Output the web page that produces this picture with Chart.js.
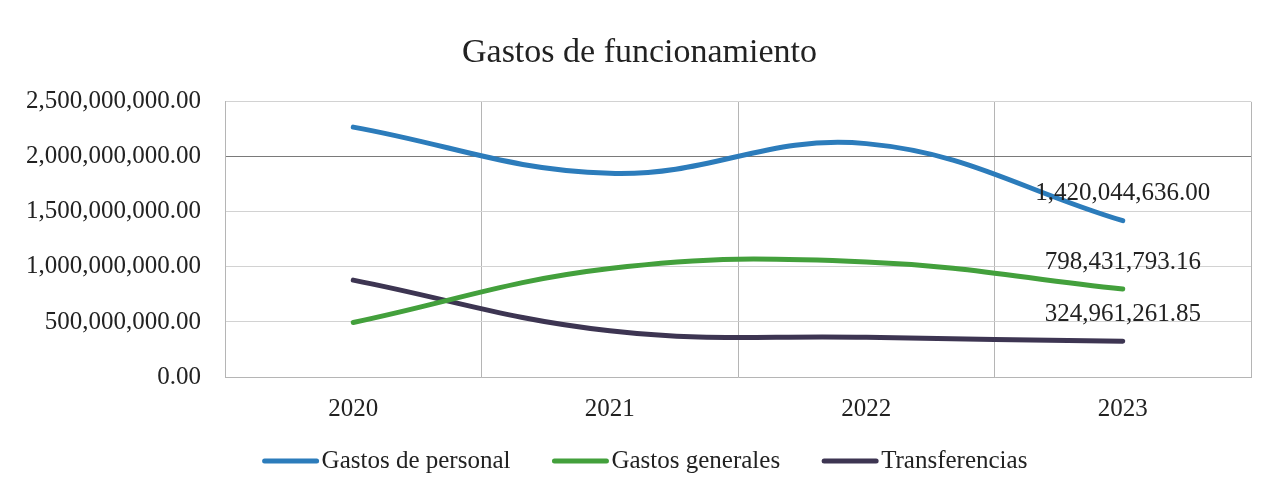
<!DOCTYPE html>
<html>
<head>
<meta charset="utf-8">
<script src="https://cdn.jsdelivr.net/npm/chart.js@4/dist/chart.umd.min.js"></script>
<style>
  html, body { margin: 0; padding: 0; background: #ffffff; }
  #wrap { position: relative; width: 1279px; height: 493px; }
</style>
</head>
<body>
<div id="wrap"><canvas id="c" width="1279" height="493"></canvas></div>
<script>
const chartTitle = "Gastos de funcionamiento";
const years = ["2020", "2021", "2022", "2023"];
const seriesNames = ["Gastos de personal", "Gastos generales", "Transferencias"];
const gastosPersonal = [2270000000, 1850000000, 2120000000, 1420044636.00];
const gastosGenerales = [495000000, 985000000, 1045000000, 798431793.16];
const transferencias = [880000000, 420000000, 360000000, 324961261.85];
const yTicks = [0, 500000000, 1000000000, 1500000000, 2000000000, 2500000000];
const seriesColors = ["#2c7cbb", "#43a03c", "#3d3552"];

const FONT = "'Liberation Serif', 'DejaVu Serif', serif";
const fmt = v => Number(v).toLocaleString('en-US', {minimumFractionDigits: 2, maximumFractionDigits: 2});

const lastLabels = {
  id: 'lastLabels',
  afterDatasetsDraw(chart) {
    const ctx = chart.ctx;
    ctx.save();
    ctx.font = "25px " + FONT;
    ctx.fillStyle = "#222222";
    ctx.textAlign = "center";
    ctx.textBaseline = "middle";
    chart.data.datasets.forEach((ds, i) => {
      const meta = chart.getDatasetMeta(i);
      const n = ds.data.length - 1;
      const pt = meta.data[n];
      ctx.fillText(fmt(ds.data[n]), pt.x, pt.y - 27);
    });
    ctx.restore();
  }
};

// legend drawn below the axis: line sample, small gap, label text
const lineLegend = {
  id: 'lineLegend',
  afterDraw(chart) {
    const ctx = chart.ctx;
    ctx.save();
    ctx.font = "25px " + FONT;
    const lineLen = 56, gap = 3, spacing = 42, cy = 461;
    const items = chart.data.datasets.map(ds => ({
      text: ds.label, color: ds.borderColor, w: ctx.measureText(ds.label).width
    }));
    const total = items.reduce((s, it) => s + lineLen + gap + it.w, 0) + spacing * (items.length - 1);
    let x = 645 - total / 2;
    items.forEach(it => {
      ctx.strokeStyle = it.color;
      ctx.lineWidth = 5;
      ctx.lineCap = 'round';
      ctx.beginPath();
      ctx.moveTo(x + 2, cy);
      ctx.lineTo(x + lineLen - 2, cy);
      ctx.stroke();
      ctx.fillStyle = "#222222";
      ctx.textAlign = "left";
      ctx.textBaseline = "middle";
      ctx.fillText(it.text, x + lineLen + gap, cy);
      x += lineLen + gap + it.w + spacing;
    });
    ctx.restore();
  }
};

const seriesData = [gastosPersonal, gastosGenerales, transferencias];

new Chart(document.getElementById('c'), {
  type: 'line',
  data: {
    labels: years,
    datasets: seriesNames.map((name, i) => ({
      label: name,
      data: seriesData[i],
      yAxisID: 'y',
      borderColor: seriesColors[i],
      backgroundColor: seriesColors[i],
      borderWidth: 5,
      borderCapStyle: 'round',
      tension: 0.4,
      pointRadius: 0,
      fill: false
    }))
  },
  options: {
    responsive: false,
    animation: false,
    layout: { padding: { left: 0, right: 0, top: 0, bottom: 54 } },
    plugins: {
      title: {
        display: true,
        text: chartTitle,
        color: "#222222",
        font: { family: FONT, size: 34, weight: 'normal', lineHeight: 1.2 },
        padding: { top: 33, bottom: 28 }
      },
      legend: { display: false },
      tooltip: { enabled: false }
    },
    scales: {
      x: {
        offset: true,
        grid: { offset: true, color: "#b5b5b5", lineWidth: 1, drawTicks: false },
        border: { color: "#b5b5b5" },
        ticks: { color: "#222222", font: { family: FONT, size: 25 }, padding: 17 },
        afterFit: s => { s.height = 62; }
      },
      y: {
        position: 'left',
        min: 0,
        max: 2500000000,
        afterBuildTicks: s => { s.ticks = yTicks.map(v => ({ value: v })); },
        grid: {
          drawTicks: false,
          color: ctx => (ctx.tick && ctx.tick.value === 2000000000) ? "#7a7a7a" : "#d2d2d2",
          lineWidth: 1
        },
        border: { color: "#b5b5b5" },
        ticks: {
          color: "#222222",
          font: { family: FONT, size: 25 },
          padding: 24,
          callback: v => fmt(v)
        },
        afterFit: s => { s.width = 225; }
      },
      yRight: {
        type: 'linear',
        position: 'right',
        display: true,
        grid: { drawOnChartArea: false, drawTicks: false },
        border: { display: false },
        ticks: { display: false },
        afterFit: s => { s.width = 28; }
      }
    }
  },
  plugins: [lastLabels, lineLegend]
});
</script>
</body>
</html>
